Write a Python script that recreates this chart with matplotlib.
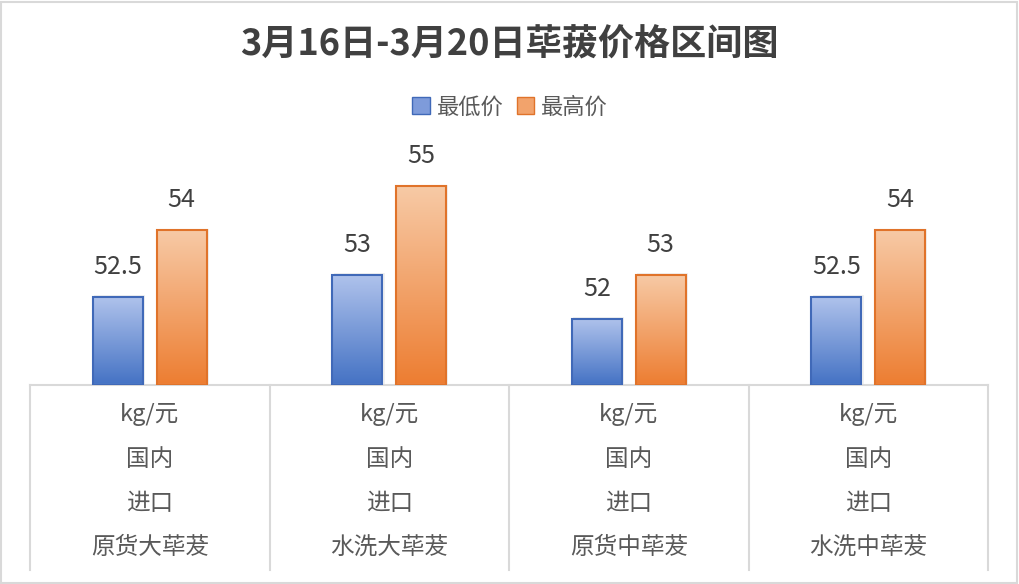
import matplotlib
matplotlib.use("Agg")
import matplotlib.pyplot as plt
import matplotlib.transforms as mtrans
from matplotlib.patches import Rectangle, Patch
from matplotlib.colors import LinearSegmentedColormap
import numpy as np

plt.rcParams['font.family'] = ['Noto Sans CJK SC', 'DejaVu Sans']

#-------------------------------------------------------------------------------
# data
title = "3月16日-3月20日荜菝价格区间图"
series_names = ["最低价", "最高价"]
units = ["kg/元", "kg/元", "kg/元", "kg/元"]
origins = ["国内", "国内", "国内", "国内"]
kinds = ["进口", "进口", "进口", "进口"]
names = ["原货大荜茇", "水洗大荜茇", "原货中荜茇", "水洗中荜茇"]
low_price = [52.5, 53, 52, 52.5]
high_price = [54, 55, 53, 54]

#-------------------------------------------------------------------------------
BLUE_TOP, BLUE_BOT, BLUE_EDGE = "#B0C3EC", "#4472C4", "#4069B8"
ORANGE_TOP, ORANGE_BOT, ORANGE_EDGE = "#F7CAA6", "#ED7D31", "#E0732A"
GRID = "#D9D9D9"
TEXT = "#404040"
LABEL = "#595959"

W, H = 1019, 584
fig = plt.figure(figsize=(W / 100, H / 100), dpi=100)

ax_l, ax_r, ax_b, ax_t = 30, 988, 385, 142
ax = fig.add_axes([ax_l / W, 1 - ax_b / H, (ax_r - ax_l) / W, (ax_b - ax_t) / H])
ax.set_xlim(-0.5, len(names) - 0.5)
ax.set_ylim(50.5, 56)
ax.set_zorder(2)
ax.patch.set_alpha(0)
for s in ["top", "left", "right"]:
    ax.spines[s].set_visible(False)
ax.spines["bottom"].set_color(GRID)
ax.spines["bottom"].set_linewidth(1.5)
ax.set_xticks([])
ax.set_yticks([])

bar_w = 0.208
offset = 0.133
grad = np.linspace(1, 0, 256).reshape(-1, 1)


def gradient_bar(x, val, top, bot, edge):
    y0 = ax.get_ylim()[0]
    cmap = LinearSegmentedColormap.from_list("g", [bot, top])
    # soft shadow
    ax.add_patch(Rectangle((x - bar_w / 2 + 0.006, y0), bar_w + 0.004, val - y0 + 0.03,
                           facecolor="#000000", alpha=0.06, edgecolor="none", zorder=1))
    ax.imshow(grad, cmap=cmap, aspect="auto", interpolation="bicubic",
              extent=(x - bar_w / 2, x + bar_w / 2, y0, val), zorder=2, vmin=0, vmax=1)
    ax.add_patch(Rectangle((x - bar_w / 2, y0), bar_w, val - y0, facecolor="none",
                           edgecolor=edge, linewidth=1.5, zorder=3))
    lab = ("%g" % val)
    ax.text(x, val + 0.68, lab, ha="center", va="center", fontsize=18, color=TEXT, zorder=4)


for i in range(len(names)):
    gradient_bar(i - offset, low_price[i], BLUE_TOP, BLUE_BOT, BLUE_EDGE)
    gradient_bar(i + offset, high_price[i], ORANGE_TOP, ORANGE_BOT, ORANGE_EDGE)
ax.set_xlim(-0.5, len(names) - 0.5)
ax.set_ylim(50.5, 56)

# multi level category axis
trans = mtrans.blended_transform_factory(ax.transData, ax.transAxes)
ax_h = ax_b - ax_t
line_bot = -(570 - ax_b) / ax_h
for b in np.arange(-0.5, len(names), 1.0):
    ax.plot([b, b], [0, line_bot], color=GRID, lw=1.5, transform=trans, clip_on=False)

rows = [units, origins, kinds, names]
row_y = [415, 460, 504, 548]
for row, py in zip(rows, row_y):
    for i, lab in enumerate(row):
        ax.text(i, -(py - ax_b) / ax_h, lab, transform=trans, ha="center", va="center",
                fontsize=17, color=LABEL, clip_on=False)

# title and legend
fig.text(0.5, 1 - 45 / H, title, ha="center", va="center", fontsize=26,
         fontweight="bold", color=TEXT)
handles = [Patch(facecolor="#7E9BDA", edgecolor=BLUE_EDGE, label=series_names[0]),
           Patch(facecolor="#F2A36C", edgecolor=ORANGE_EDGE, label=series_names[1])]
fig.legend(handles=handles, loc="center", bbox_to_anchor=(510 / W, 1 - 107 / H), ncol=2,
           frameon=False, fontsize=16, handlelength=0.8, handleheight=0.8,
           handletextpad=0.3, columnspacing=0.6, labelcolor=LABEL)

# outer border
fig.patches.append(Rectangle((1 / W, 1 / H), (W - 3) / W, (H - 3) / H, transform=fig.transFigure,
                             facecolor="none", edgecolor=GRID, linewidth=1.5))

fig.savefig("out.png", dpi=100)
